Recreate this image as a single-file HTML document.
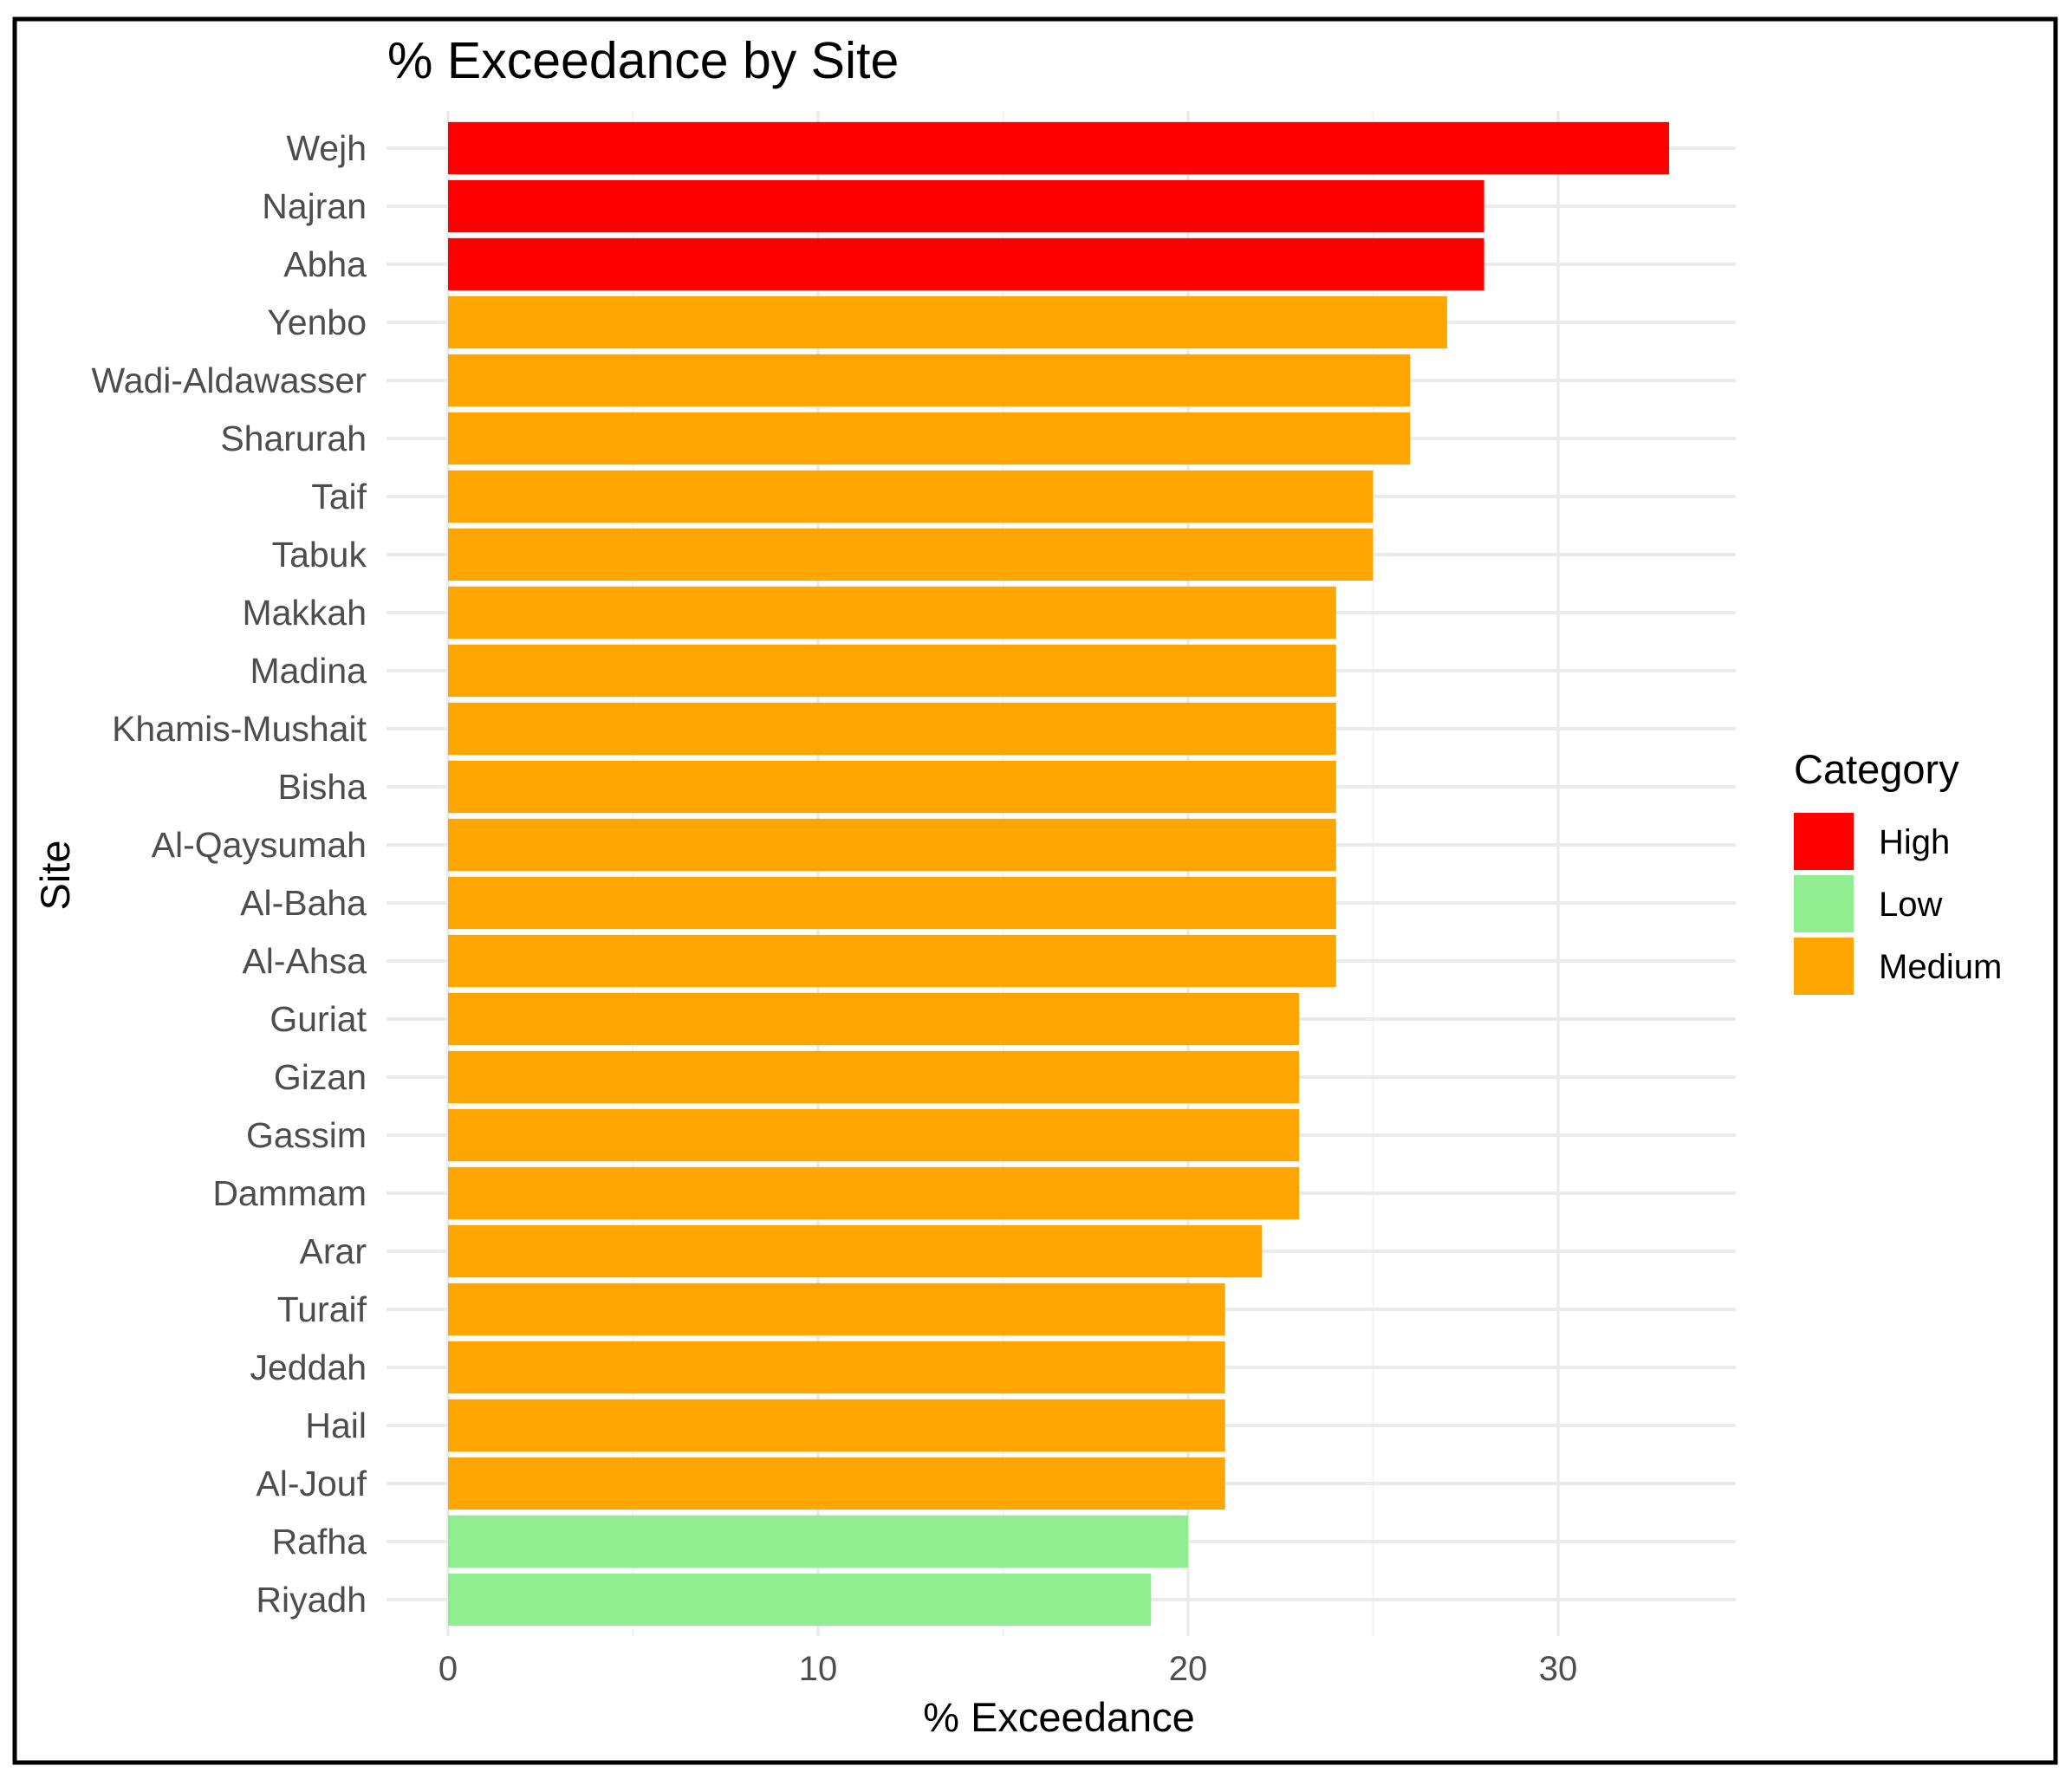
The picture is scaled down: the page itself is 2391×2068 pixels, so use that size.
<!DOCTYPE html>
<html><head><meta charset="utf-8"><style>
html,body{margin:0;padding:0;background:#fff;}
svg{display:block;font-family:"Liberation Sans",Arial,sans-serif;}
</style></head><body>
<svg id="chart" width="2391" height="2068" viewBox="0 0 2391 2068" xmlns="http://www.w3.org/2000/svg">
<rect x="0" y="0" width="2391" height="2068" fill="#fff"/>
<rect x="17" y="22" width="2355" height="2012" fill="none" stroke="#000" stroke-width="5"/>
<g id="grid"></g>
<g id="bars"></g>
<g id="ylabels"></g>
<g id="xlabels"></g>
<text x="447" y="90" font-size="59" fill="#000">% Exceedance by Site</text>
<text x="1222" y="1998" font-size="47" fill="#000" text-anchor="middle">% Exceedance</text>
<text x="0" y="0" font-size="47" fill="#000" text-anchor="middle" transform="translate(80,1010) rotate(-90)">Site</text>
<g>
<text x="2070" y="904" font-size="47" fill="#000">Category</text>
<rect x="2070" y="938" width="69" height="66" fill="#ff0000"/>
<text x="2168" y="985" font-size="40" fill="#000">High</text>
<rect x="2070" y="1010" width="69" height="66" fill="#90ee90"/>
<text x="2168" y="1057" font-size="40" fill="#000">Low</text>
<rect x="2070" y="1082" width="69" height="66" fill="#ffa500"/>
<text x="2168" y="1129" font-size="40" fill="#000">Medium</text>
</g>
</svg>
<script>
const sites = ["Wejh","Najran","Abha","Yenbo","Wadi-Aldawasser","Sharurah","Taif","Tabuk","Makkah","Madina","Khamis-Mushait","Bisha","Al-Qaysumah","Al-Baha","Al-Ahsa","Guriat","Gizan","Gassim","Dammam","Arar","Turaif","Jeddah","Hail","Al-Jouf","Rafha","Riyadh"];
const values = [33,28,28,27,26,26,25,25,24,24,24,24,24,24,24,23,23,23,23,22,21,21,21,21,20,19];
const categories = ["High","High","High","Medium","Medium","Medium","Medium","Medium","Medium","Medium","Medium","Medium","Medium","Medium","Medium","Medium","Medium","Medium","Medium","Medium","Medium","Medium","Medium","Medium","Low","Low"];
const xTicks = [0,10,20,30];
const xMinor = [5,15,25];

const colorMap = {High:"#ff0000", Medium:"#ffa500", Low:"#90ee90"};
const NS = "http://www.w3.org/2000/svg";
const x0 = 517, unit = 42.7;
const xs = v => x0 + v * unit;
const rowTop = 171, rowStep = 67.0;
const ys = i => rowTop + i * rowStep;
const panelTop = 128, panelBottom = 1888, panelLeft = 446, panelRight = 2003;
const bandH = rowStep * 0.9;

function mk(tag, attrs, parent){
  const el = document.createElementNS(NS, tag);
  for (const k in attrs) el.setAttribute(k, attrs[k]);
  parent.appendChild(el);
  return el;
}
const grid = document.getElementById('grid');
const bars = document.getElementById('bars');
const ylabels = document.getElementById('ylabels');
const xlabels = document.getElementById('xlabels');

xMinor.forEach(v => {
  const l = mk('line', {x1: xs(v), x2: xs(v), y1: panelTop, y2: panelBottom, stroke: '#f3f3f3', 'stroke-width': 2}, grid);
  
  
});
xTicks.forEach(v => {
  const l = mk('line', {x1: xs(v), x2: xs(v), y1: panelTop, y2: panelBottom, stroke: '#ebebeb', 'stroke-width': 3.5}, grid);
  
  
  const t = mk('text', {x: xs(v), y: 1939, 'font-size': 40, fill: '#4d4d4d', 'text-anchor': 'middle'}, xlabels);
  t.textContent = v;
  
  
});
sites.forEach((s, i) => {
  const y = ys(i);
  const g = mk('line', {x1: panelLeft, x2: panelRight, y1: y, y2: y, stroke: '#ebebeb', 'stroke-width': 4}, grid);
  
  
  const r = mk('rect', {x: xs(0), y: y - bandH/2, width: xs(values[i]) - xs(0), height: bandH, fill: colorMap[categories[i]]}, bars);
  
  
  const t = mk('text', {x: 423, y: y + 14, 'font-size': 41, fill: '#4d4d4d', 'text-anchor': 'end'}, ylabels);
  t.textContent = s;
  
  
});
</script>
</body></html>
